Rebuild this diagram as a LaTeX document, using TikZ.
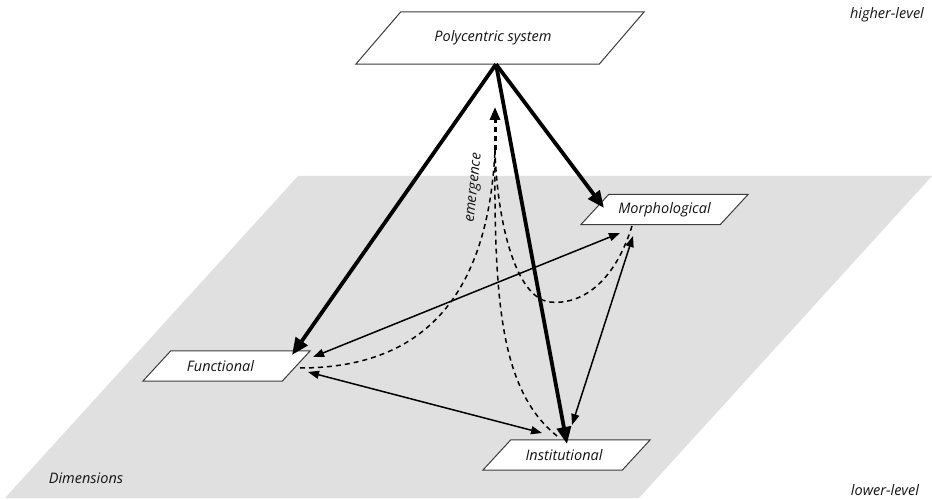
\documentclass[tikz,border=0pt]{standalone}
\usepackage{fontspec}
\setmainfont{Open Sans}
\usetikzlibrary{arrows.meta,calc}
\definecolor{planegray}{RGB}{224,224,224}
\definecolor{boxline}{RGB}{60,60,60}
\definecolor{txt}{RGB}{20,20,20}
\pgfdeclarelayer{planelayer}
\pgfdeclarelayer{boxlayer}
\pgfsetlayers{planelayer,boxlayer,main}
\begin{document}
\begin{tikzpicture}[x=1pt,y=-1pt,
  lbl/.style={font=\fontsize{14.5}{17}\selectfont\itshape, text=txt},
  dimbox/.style={lbl, minimum width=167pt, minimum height=30pt, inner sep=0pt},
  bigbox/.style={lbl, minimum width=288pt, minimum height=52pt, inner sep=0pt},
  paraline/.style={draw=boxline, fill=white, line width=1pt},
  thickarrow/.style={line width=3.8pt, -{Triangle[length=17pt,width=14pt]}},
  link/.style={line width=1.5pt, {Triangle[length=11pt,width=8pt]}-{Triangle[length=11pt,width=8pt]}},
  emerge/.style={line width=1.5pt, dash pattern=on 5pt off 4pt},
]
\useasboundingbox (0,0) rectangle (932,500);
\begin{pgfonlayer}{planelayer}
\fill[planegray] (298,176) -- (932,176) -- (639,498) -- (5,498) -- cycle;
\end{pgfonlayer}

\node[bigbox] (poly) at (500,38) {\hspace*{-14pt}Polycentric system};
\node[dimbox] (morph) at (664.5,209.5) {Morphological};
\node[dimbox] (func) at (226.5,366) {\hspace*{-12pt}Functional};
\node[dimbox] (inst) at (566.5,455) {\hspace*{-5pt}Institutional};

\begin{pgfonlayer}{boxlayer}
\foreach \n/\s in {poly/45,morph/28,func/28,inst/28}
  \draw[paraline] ([xshift=\s pt]\n.north west) -- (\n.north east) -- ([xshift=-\s pt]\n.south east) -- (\n.south west) -- cycle;
\end{pgfonlayer}

\node[lbl] (hl) at (887,15) {higher-level};
\node[lbl] (ll) at (885,490) {lower-level};
\node[lbl] (dim) at (86,478) {Dimensions};

% top-down arrows
\coordinate (apex) at ([xshift=-4pt]poly.south);
\draw[thickarrow] (apex) -- ([shift={(65.5pt,11pt)}]func.center);
\draw[thickarrow] (apex) -- ([shift={(-60.5pt,1.5pt)}]morph.center);
\draw[thickarrow] (apex) -- ([shift={(0.5pt,11pt)}]inst.center);

% interactions
\draw[link] ([shift={(86.5pt,9pt)}]func.center) -- ([shift={(-44.5pt,-23.5pt)}]morph.center);
\draw[link] ([shift={(81.5pt,-6pt)}]func.center) -- ([shift={(-24.5pt,22pt)}]inst.center);
\draw[link] ([shift={(-31.5pt,-26.5pt)}]morph.center) -- ([shift={(5.5pt,30pt)}]inst.center);

% emergence
\coordinate (em) at (495,150);
\coordinate (emtip) at (495,107);
\draw[emerge] ([shift={(73.5pt,-2pt)}]func.center) .. controls (420,368) and (488,300) .. (em);
\draw[emerge] ([shift={(-9.5pt,19pt)}]inst.center) .. controls (500,390) and (494,300) .. (em);
\draw[emerge] ([shift={(-32.5pt,-16.5pt)}]morph.center) .. controls (612,290) and (575,305) .. (550,302) .. controls (515,298) and (497,220) .. (em);
\draw[emerge, line width=3pt, -{Triangle[length=13pt,width=10pt]}] (em) -- (emtip);
\node[lbl, rotate=84] (emlabel) at (475,188) {emergence};
\end{tikzpicture}
\end{document}
